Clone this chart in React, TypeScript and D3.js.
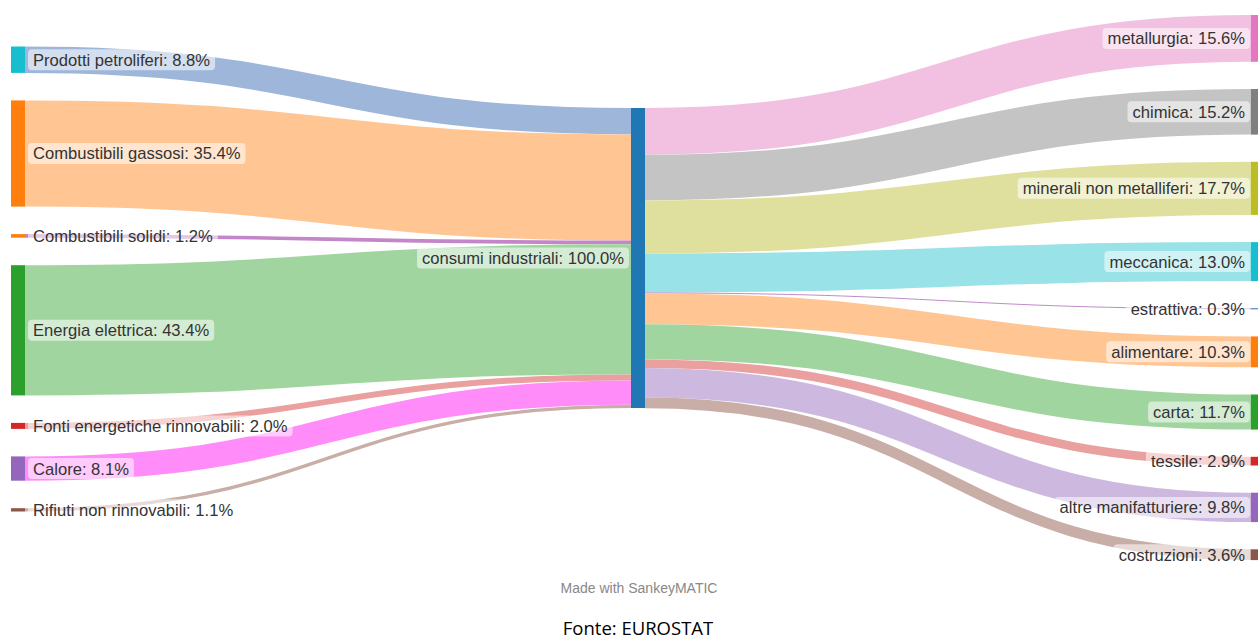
import { useMemo } from 'react';
import * as d3 from 'd3';

// fonti energetiche (colonna sinistra)
const SOURCES = [
  "Prodotti petroliferi",
  "Combustibili gassosi",
  "Combustibili solidi",
  "Energia elettrica",
  "Fonti energetiche rinnovabili",
  "Calore",
  "Rifiuti non rinnovabili",
];
const SOURCE_VALUES = [8.8, 35.4, 1.2, 43.4, 2.0, 8.1, 1.1];
const SOURCE_COLORS = ["#17becf", "#ff7f0e", "#ff7f0e", "#2ca02c", "#d62728", "#9467bd", "#8c564b"];
const SOURCE_LINK_COLORS = ["#9db6da", "#ffc593", "#c386c8", "#a1d59f", "#eba0a0", "#ff8cf8", "#c9ada7"];

// nodo centrale
const HUB = "consumi industriali";
const HUB_VALUE = 100.0;
const HUB_COLOR = "#1f77b4";

// settori (colonna destra)
const TARGETS = [
  "metallurgia",
  "chimica",
  "minerali non metalliferi",
  "meccanica",
  "estrattiva",
  "alimentare",
  "carta",
  "tessile",
  "altre manifatturiere",
  "costruzioni",
];
const TARGET_VALUES = [15.6, 15.2, 17.7, 13.0, 0.3, 10.3, 11.7, 2.9, 9.8, 3.6];
const TARGET_COLORS = ["#e377c2", "#7f7f7f", "#bcbd22", "#17becf", "#1f77b4", "#ff7f0e", "#2ca02c", "#d62728", "#9467bd", "#8c564b"];
const TARGET_LINK_COLORS = ["#f2c0e0", "#c4c4c4", "#e0e09e", "#98e2e8", "#c08cc8", "#ffc593", "#a1d59f", "#eba0a0", "#cdb9df", "#c9ada7"];

const W = 1258;
const H = 640;
const NODE_W = 14;
const FONT = '16.6px "Liberation Sans", Arial, sans-serif';

let ctx: CanvasRenderingContext2D | null = null;
function textWidth(s: string) {
  if (!ctx) ctx = document.createElement('canvas').getContext('2d');
  ctx!.font = FONT;
  return ctx!.measureText(s).width;
}

const fmt = (v: number) => v.toFixed(1) + '%';

type Node = { name: string; value: number; color: string; x: number; y0: number; y1: number };

function stack(names: string[], values: number[], colors: string[], x: number, top: number, gap: number, h: d3.ScaleLinear<number, number>): Node[] {
  let y = top;
  return names.map((name, i) => {
    const n = { name, value: values[i], color: colors[i], x, y0: y, y1: y + h(values[i]) };
    y = n.y1 + gap;
    return n;
  });
}

function Label({ text, x, y, anchor }: { text: string; x: number; y: number; anchor: 'start' | 'end' }) {
  const w = textWidth(text);
  const bx = anchor === 'start' ? x - 5 : x - w - 5;
  return (
    <g>
      <rect x={bx} y={y - 10.5} width={w + 10} height={21} rx={4} fill="#fff" fillOpacity={0.55} />
      <text x={x} y={y} dy="0.36em" textAnchor={anchor} fill="#333" style={{ font: FONT }}>{text}</text>
    </g>
  );
}

export default function App() {
  const h = useMemo(() => d3.scaleLinear().domain([0, 100]).range([0, 300]), []);
  const colX = useMemo(() => d3.scaleLinear().domain([0, 2]).range([11, 1251]), []);

  const left = stack(SOURCES, SOURCE_VALUES, SOURCE_COLORS, colX(0), 46.5, 27.5, h);
  const hub = stack([HUB], [HUB_VALUE], [HUB_COLOR], colX(1), 108, 0, h)[0];
  const right = stack(TARGETS, TARGET_VALUES, TARGET_COLORS, colX(2), 15, 27.2, h);

  const link = d3.linkHorizontal<any, [number, number]>().source(d => d.s).target(d => d.t);

  let inY = hub.y0;
  const inLinks = left.map((n, i) => {
    const w = h(n.value);
    const d = link({ s: [n.x + NODE_W, (n.y0 + n.y1) / 2], t: [hub.x, inY + w / 2] });
    inY += w;
    return { d, w, color: SOURCE_LINK_COLORS[i] };
  });
  let outY = hub.y0;
  const outLinks = right.map((n, i) => {
    const w = h(n.value);
    const d = link({ s: [hub.x + NODE_W, outY + w / 2], t: [n.x, (n.y0 + n.y1) / 2] });
    outY += w;
    return { d, w, color: TARGET_LINK_COLORS[i] };
  });

  return (
    <div style={{ position: 'fixed', left: 0, top: 0 }}>
      <svg width={W} height={H} style={{ display: 'block', background: '#fff' }}>
        {[...inLinks, ...outLinks].map((l, i) => (
          <path key={i} d={l.d as string} fill="none" stroke={l.color} strokeWidth={Math.max(1, l.w)} />
        ))}
        {[...left, hub, ...right].map((n, i) => (
          <rect key={i} x={n.x} y={n.y0} width={NODE_W} height={Math.max(1, n.y1 - n.y0)} fill={n.color} />
        ))}
        {left.map((n, i) => (
          <Label key={'l' + i} text={`${n.name}: ${fmt(n.value)}`} x={n.x + NODE_W + 8} y={(n.y0 + n.y1) / 2} anchor="start" />
        ))}
        <Label text={`${hub.name}: ${fmt(hub.value)}`} x={hub.x - 7} y={(hub.y0 + hub.y1) / 2} anchor="end" />
        {right.map((n, i) => (
          <Label key={'r' + i} text={`${n.name}: ${fmt(n.value)}`} x={n.x - 6} y={(n.y0 + n.y1) / 2} anchor="end" />
        ))}
        <text x={639} y={593} textAnchor="middle" fill="#888" style={{ font: '14px "Liberation Sans", Arial, sans-serif' }}>Made with SankeyMATIC</text>
        <text x={638} y={635} textAnchor="middle" fill="#000" style={{ font: '18.5px "Open Sans", sans-serif' }}>Fonte: EUROSTAT</text>
      </svg>
    </div>
  );
}
